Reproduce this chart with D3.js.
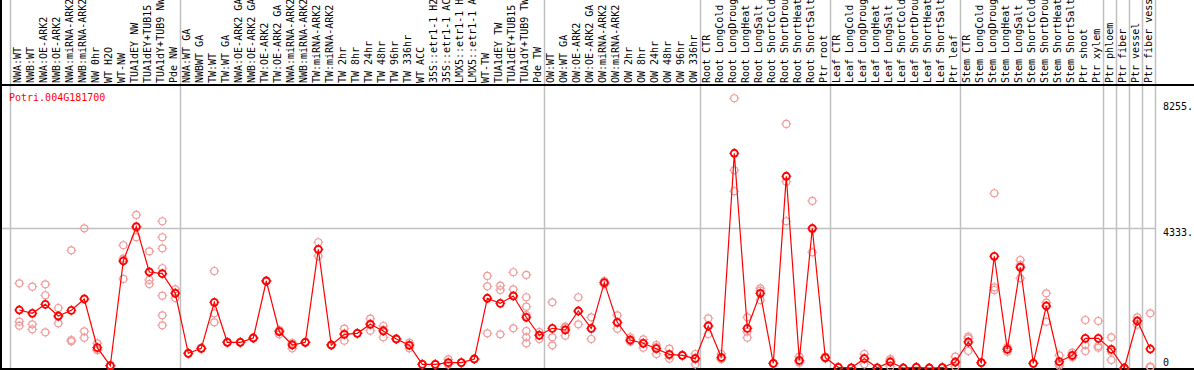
<!DOCTYPE html>
<html>
<head>
<meta charset="utf-8">
<script src="https://cdn.jsdelivr.net/npm/d3@7"></script>
<style>
  body { margin: 0; background: #fff; }
  svg { display: block; }
  text { font-family: "DejaVu Sans Mono", monospace; font-size: 10px; }
</style>
</head>
<body>
<svg id="chart" width="1194" height="370"></svg>
<script>
// sample labels, left to right
var categories = [
  "NWA:WT", "NWB:WT", "NWA:OE-ARK2", "NWB:OE-ARK2", "NWA:miRNA-ARK2", "NWB:miRNA-ARK2",
  "NW 0hr", "WT H2O", "WT-NW", "TUA1dEY NW", "TUA1dEY+TUB15 NW", "TUA1dY+TUB9 NW", "Pde NW",
  "NWA:WT GA", "NWBWT GA", "TW:WT", "TW:WT GA", "NWA:OE-ARK2 GA", "NWB:OE-ARK2 GA",
  "TW:OE-ARK2", "TW:OE-ARK2 GA", "NWA:miRNA-ARK2", "NWB:miRNA-ARK2", "TW:miRNA-ARK2", "TW:miRNA-ARK2",
  "TW 2hr", "TW 8hr", "TW 24hr", "TW 48hr", "TW 96hr", "TW 336hr", "WT ACC",
  "35S::etr1-1 H2O", "35S::etr1-1 ACC", "LMX5::etr1-1 H2O", "LMX5::etr1-1 ACC",
  "WT-TW", "TUA1dEY TW", "TUA1dEY+TUB15 TW", "TUA1dY+TUB9 TW", "Pde TW",
  "OW:WT", "OW:WT GA", "OW:OE-ARK2", "OW:OE-ARK2 GA", "OW:miRNA-ARK2", "OW:miRNA-ARK2",
  "OW 2hr", "OW 8hr", "OW 24hr", "OW 48hr", "OW 96hr", "OW 336hr",
  "Root CTR", "Root LongCold", "Root LongDrought", "Root LongHeat", "Root LongSalt",
  "Root ShortCold", "Root ShortDrought", "Root ShortHeat", "Root ShortSalt", "Ptr root",
  "Leaf CTR", "Leaf LongCold", "Leaf LongDrought", "Leaf LongHeat", "Leaf LongSalt",
  "Leaf ShortCold", "Leaf ShortDrought", "Leaf ShortHeat", "Leaf ShortSalt", "Ptr leaf",
  "Stem CTR", "Stem LongCold", "Stem LongDrought", "Stem LongHeat", "Stem LongSalt",
  "Stem ShortCold", "Stem ShortDrought", "Stem ShortHeat", "Stem ShortSalt",
  "Ptr shoot", "Ptr xylem", "Ptr phloem", "Ptr fiber", "Ptr vessel", "Ptr fiber vessel"
];

// mean expression per sample
var means = [
  1800, 1698, 1977, 1614, 1791, 2142, 630, 71, 3321, 4386, 2980, 2927, 2319,
  456, 611, 2039, 798, 798, 931, 2700, 1127, 714, 798, 3684, 714,
  1046, 1077, 1356, 1148, 900, 705, 115, 115, 165, 165, 279,
  2164, 2008, 2235, 1574, 1015,
  1232, 1180, 1769, 1232, 2648, 1418, 869, 767, 599, 425, 394, 289,
  1304, 332, 6664, 1232, 2319, 146, 5950, 239, 4336, 320,
  22, 5, 289, 5, 186, 0, 22, 0, 10, 186,
  807, 165, 3467, 580, 3126, 146, 1924, 196, 394, 922,
  922, 580, 0, 1459, 590
];

// replicate values per sample
var replicates = [
  [2629, 1437, 1313], [2524, 1356, 1201], [2598, 2257, 1108], [1862, 1387, 1593],
  [3653, 869, 829], [4336, 1139, 941], [767, 559, 564], [60, 80, 75],
  [3809, 3393, 2763], [4749, 4057, 4352], [3622, 2732, 2607],
  [4554, 4057, 3715, 3095, 2244, 1636, 1325], [2443, 2173, 2340],
  [440, 470, 458], [600, 625, 608], [3011, 1698, 1419], [790, 805, 800], [790, 805, 800],
  [920, 940, 933], [2690, 2710, 2700], [1046, 1160, 1175], [611, 760, 770], [790, 805, 800],
  [3902, 3476, 3675], [700, 720, 722],
  [1220, 847, 1070], [1070, 1085, 1077], [1530, 1158, 1380], [1304, 953, 1190], [890, 910, 900],
  [785, 611, 720], [110, 120, 115], [110, 120, 115], [270, 110, 115], [160, 170, 165], [270, 285, 282],
  [2856, 2536, 1077], [2555, 2421, 1046], [2971, 2443, 1232],
  [2887, 2195, 1903, 1645, 1148, 953, 767], [1117, 900, 1030],
  [2039, 953, 705], [1282, 1003, 1250], [2195, 1356, 1760], [1574, 900, 1220],
  [2700, 2600, 2645], [1636, 1220, 1400], [953, 816, 840], [891, 630, 780],
  [714, 435, 650], [599, 289, 390], [380, 400, 402], [435, 115, 317],
  [1543, 1055, 1310], [435, 280, 281],
  [8371, 6137, 5485], [1574, 1127, 941], [2474, 2399, 2111], [140, 150, 148],
  [7574, 5783, 4554], [351, 165, 200], [5184, 4305, 3591], [351, 300, 310], [20, 25, 22],
  [5, 5, 5], [435, 115, 317], [5, 5, 5], [279, 40, 240], [0, 0, 0], [20, 25, 22], [0, 0, 0],
  [10, 10, 10], [351, 40, 167], [972, 528, 920], [165, 160, 170],
  [5423, 2505, 2421], [643, 506, 590], [3352, 3197, 2784], [140, 150, 148],
  [2319, 2027, 1437], [394, 124, 70], [475, 332, 375],
  [1490, 714, 528], [1459, 683, 630], [953, 506, 248], [0, 0, 0],
  [1574, 1345, 1459], [1698, 40, 30]
];

// last sample of each block, a gray separator follows it
var groupEnds = [12, 40, 52, 62, 72, 83, 84, 85, 86, 87];

var yTicks = [8255, 4333, 0];
var yTickLabels = ["8255.", "4333.", "0"];
var gridValues = [4333];

var title = "Potri.004G181700";

var width = 1194, height = 370;
var headerBottom = 85, plotBottom = 368;

var svg = d3.select("#chart");

var x = d3.scalePoint()
    .domain(d3.range(categories.length))
    .range([19.3, 19.3 + 13 * (categories.length - 1)]);

var y = d3.scaleLinear()
    .domain([0, 8255])
    .range([plotBottom, 102]);

// gray separators, full height
var sepX = [x(0) - 9].concat(groupEnds.map(function(i) { return x(i) + 5; }));
svg.append("g").selectAll("line")
    .data(sepX)
    .enter().append("line")
    .attr("x1", function(d) { return Math.round(d) + 0.5; })
    .attr("x2", function(d) { return Math.round(d) + 0.5; })
    .attr("y1", 0)
    .attr("y2", height)
    .attr("stroke", "#c0c0c0")
    .attr("stroke-width", 1.5);

// horizontal grid
svg.append("g").selectAll("line")
    .data(gridValues)
    .enter().append("line")
    .attr("x1", 1)
    .attr("x2", x(categories.length - 1) + 5)
    .attr("y1", function(d) { return Math.round(y(d)) + 0.5; })
    .attr("y2", function(d) { return Math.round(y(d)) + 0.5; })
    .attr("stroke", "#c0c0c0")
    .attr("stroke-width", 1.5);

// frame
svg.append("line").attr("x1", 0).attr("x2", width).attr("y1", headerBottom).attr("y2", headerBottom)
    .attr("stroke", "#000").attr("stroke-width", 2);
svg.append("line").attr("x1", 0).attr("x2", width).attr("y1", plotBottom + 1).attr("y2", plotBottom + 1)
    .attr("stroke", "#000").attr("stroke-width", 2);
svg.append("line").attr("x1", 1).attr("x2", 1).attr("y1", 0).attr("y2", height)
    .attr("stroke", "#000").attr("stroke-width", 2);

// sample labels, rotated
svg.append("g").selectAll("text")
    .data(categories)
    .enter().append("text")
    .attr("transform", function(d, i) {
        return "translate(" + (x(i) + 2) + "," + (headerBottom - 2) + ") rotate(-90)";
    })
    .attr("fill", "#000")
    .text(function(d) { return d; });

// y labels
svg.append("g").selectAll("text")
    .data(yTicks)
    .enter().append("text")
    .attr("x", 1163)
    .attr("y", function(d) { return Math.min(y(d) + 7.5, 366); })
    .attr("fill", "#000")
    .text(function(d, i) { return yTickLabels[i]; });

svg.append("text")
    .attr("x", 9)
    .attr("y", 101)
    .attr("fill", "#ff0000")
    .text(title);

function marker(g, r, color, sw) {
    g.append("circle")
        .attr("r", r)
        .attr("fill", "none")
        .attr("stroke", color)
        .attr("stroke-width", sw);
    g.append("path")
        .attr("d", "M0," + (-r - 1.5) + "V" + (-r) + "M0," + r + "V" + (r + 1.5) +
                   "M" + (-r - 1.5) + ",0H" + (-r) + "M" + r + ",0H" + (r + 1.5))
        .attr("stroke", color)
        .attr("stroke-width", 1);
}

// replicate points
var repPts = [];
replicates.forEach(function(list, i) {
    list.forEach(function(v) { repPts.push({ i: i, v: v }); });
});
svg.append("g").selectAll("g")
    .data(repPts)
    .enter().append("g")
    .attr("transform", function(d) { return "translate(" + x(d.i) + "," + y(d.v) + ")"; })
    .each(function() { marker(d3.select(this), 3.5, "#f09a9a", 1.2); });

// mean line
var line = d3.line()
    .x(function(d, i) { return x(i); })
    .y(function(d) { return y(d); });

svg.append("path")
    .datum(means)
    .attr("d", line)
    .attr("fill", "none")
    .attr("stroke", "#ff0000")
    .attr("stroke-width", 1.2);

svg.append("g").selectAll("g")
    .data(means)
    .enter().append("g")
    .attr("transform", function(d, i) { return "translate(" + x(i) + "," + y(d) + ")"; })
    .each(function() { marker(d3.select(this), 3.5, "#ff0000", 1.8); });
</script>
</body>
</html>
